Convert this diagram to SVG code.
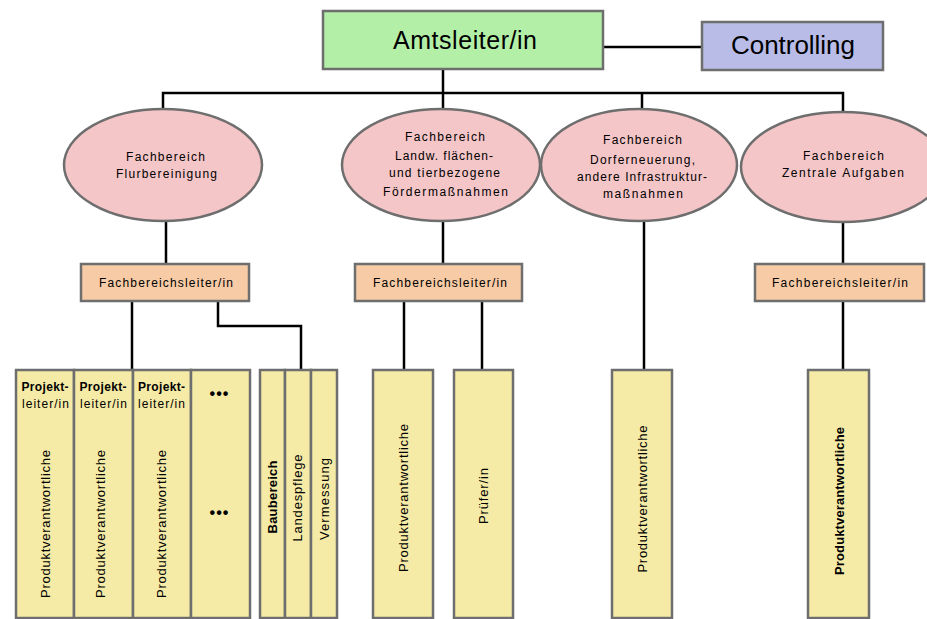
<svg xmlns="http://www.w3.org/2000/svg" width="927" height="619" viewBox="0 0 927 619">
<style>
text{font-family:"Liberation Sans",Arial,sans-serif;fill:#000}
.box{stroke:#6e6e6e;stroke-width:2.5}
.green{fill:#b3efa7}
.blue{fill:#b8bce6}
.pink{fill:#f5c6c8}
.peach{fill:#f7cba6}
.yel{fill:#f5eba6}
.conn{stroke:#000;stroke-width:2.5;fill:none}
.t{font-size:12px;text-anchor:middle}
.v{font-size:13px;text-anchor:middle}
</style>
<g id="connectors">
<line class="conn" x1="603" y1="47" x2="701" y2="47"/>
<line class="conn" x1="443" y1="69" x2="443" y2="109"/>
<polyline class="conn" points="163,109 163,93 843,93 843,111"/>
<line class="conn" x1="642" y1="93" x2="642" y2="109"/>
<line class="conn" x1="166" y1="221" x2="166" y2="263"/>
<line class="conn" x1="443" y1="221" x2="443" y2="263"/>
<line class="conn" x1="644" y1="221" x2="644" y2="369"/>
<line class="conn" x1="843" y1="222" x2="843" y2="263"/>
<line class="conn" x1="843" y1="301" x2="843" y2="369"/>
<line class="conn" x1="132" y1="301" x2="132" y2="369"/>
<polyline class="conn" points="218,301 218,326 301,326 301,369"/>
<line class="conn" x1="404" y1="301" x2="404" y2="369"/>
<line class="conn" x1="482" y1="301" x2="482" y2="369"/>
</g>
<g id="amtsleiter">
<rect class="box green" x="323" y="11" width="280" height="58"/>
<text x="465" y="49" font-size="25" text-anchor="middle" textLength="144" lengthAdjust="spacing">Amtsleiter/in</text>
</g>
<g id="controlling">
<rect class="box blue" x="702" y="22" width="181" height="48"/>
<text x="793" y="54" font-size="26" text-anchor="middle" textLength="124" lengthAdjust="spacing">Controlling</text>
</g>
<g id="fb1">
<ellipse class="box pink" cx="163" cy="165" rx="99" ry="56"/>
<text class="t" x="165.5" y="161" textLength="79" lengthAdjust="spacing">Fachbereich</text>
<text class="t" x="166.5" y="178" textLength="101" lengthAdjust="spacing">Flurbereinigung</text>
</g>
<g id="fb2">
<ellipse class="box pink" cx="441" cy="165" rx="99" ry="56"/>
<text class="t" x="445" y="141" textLength="80" lengthAdjust="spacing">Fachbereich</text>
<text class="t" x="444" y="160" textLength="98" lengthAdjust="spacing">Landw. flächen-</text>
<text class="t" x="444.5" y="177" textLength="111" lengthAdjust="spacing">und tierbezogene</text>
<text class="t" x="445.5" y="196" textLength="125" lengthAdjust="spacing">Fördermaßnahmen</text>
</g>
<g id="fb3">
<ellipse class="box pink" cx="639" cy="165" rx="98" ry="56"/>
<text class="t" x="642.5" y="144" textLength="79" lengthAdjust="spacing">Fachbereich</text>
<text class="t" x="642.5" y="164" textLength="105" lengthAdjust="spacing">Dorferneuerung,</text>
<text class="t" x="642" y="181" textLength="130" lengthAdjust="spacing">andere Infrastruktur-</text>
<text class="t" x="643" y="198" textLength="80" lengthAdjust="spacing">maßnahmen</text>
</g>
<g id="fb4">
<ellipse class="box pink" cx="843" cy="167" rx="102" ry="55"/>
<text class="t" x="843.5" y="160" textLength="81" lengthAdjust="spacing">Fachbereich</text>
<text class="t" x="843" y="177" textLength="122" lengthAdjust="spacing">Zentrale Aufgaben</text>
</g>
<g id="fbl1">
<rect class="box peach" x="81" y="264" width="168" height="37"/>
<text class="t" x="166" y="287" textLength="134" lengthAdjust="spacing">Fachbereichsleiter/in</text>
</g>
<g id="fbl2">
<rect class="box peach" x="355" y="264" width="167" height="37"/>
<text class="t" x="440" y="287" textLength="134" lengthAdjust="spacing">Fachbereichsleiter/in</text>
</g>
<g id="fbl4">
<rect class="box peach" x="755" y="264" width="169" height="37"/>
<text class="t" x="840" y="287" textLength="136" lengthAdjust="spacing">Fachbereichsleiter/in</text>
</g>
<g id="col1">
<rect class="box yel" x="16" y="370" width="58" height="248"/>
<text class="t" x="45" y="391" font-weight="bold" textLength="47" lengthAdjust="spacing">Projekt-</text>
<text class="t" x="45.5" y="408" textLength="47" lengthAdjust="spacing">leiter/in</text>
<text class="v" transform="translate(49.5,524) rotate(-90)" textLength="148" lengthAdjust="spacing">Produktverantwortliche</text>
</g>
<g id="col2">
<rect class="box yel" x="74" y="370" width="59" height="248"/>
<text class="t" x="103" y="391" font-weight="bold" textLength="47" lengthAdjust="spacing">Projekt-</text>
<text class="t" x="103.5" y="408" textLength="47" lengthAdjust="spacing">leiter/in</text>
<text class="v" transform="translate(105,524) rotate(-90)" textLength="148" lengthAdjust="spacing">Produktverantwortliche</text>
</g>
<g id="col3">
<rect class="box yel" x="133" y="370" width="58" height="248"/>
<text class="t" x="161.5" y="391" font-weight="bold" textLength="47" lengthAdjust="spacing">Projekt-</text>
<text class="t" x="161.5" y="408" textLength="47" lengthAdjust="spacing">leiter/in</text>
<text class="v" transform="translate(166,524) rotate(-90)" textLength="148" lengthAdjust="spacing">Produktverantwortliche</text>
</g>
<g id="col4">
<rect class="box yel" x="191" y="370" width="59" height="248"/>
<text x="219.5" y="399" font-size="16" font-weight="bold" text-anchor="middle" letter-spacing="1">•••</text>
<text x="219.5" y="518" font-size="16" font-weight="bold" text-anchor="middle" letter-spacing="1">•••</text>
</g>
<g id="baubereich">
<rect class="box yel" x="260" y="370" width="25" height="248"/>
<text class="v" font-weight="bold" transform="translate(276.5,497) rotate(-90)" textLength="73" lengthAdjust="spacing">Baubereich</text>
</g>
<g id="landespflege">
<rect class="box yel" x="285" y="370" width="26" height="248"/>
<text class="v" transform="translate(302,498) rotate(-90)" textLength="87" lengthAdjust="spacing">Landespflege</text>
</g>
<g id="vermessung">
<rect class="box yel" x="311" y="370" width="26" height="248"/>
<text class="v" transform="translate(328.5,499) rotate(-90)" textLength="82" lengthAdjust="spacing">Vermessung</text>
</g>
<g id="col5">
<rect class="box yel" x="373" y="370" width="60" height="248"/>
<text class="v" transform="translate(408,498) rotate(-90)" textLength="148" lengthAdjust="spacing">Produktverantwortliche</text>
</g>
<g id="col6">
<rect class="box yel" x="454" y="370" width="59" height="248"/>
<text class="v" transform="translate(488,496) rotate(-90)" textLength="56" lengthAdjust="spacing">Prüfer/in</text>
</g>
<g id="col7">
<rect class="box yel" x="612" y="370" width="60" height="248"/>
<text class="v" transform="translate(647,499) rotate(-90)" textLength="147" lengthAdjust="spacing">Produktverantwortliche</text>
</g>
<g id="col8">
<rect class="box yel" x="808" y="370" width="61" height="248"/>
<text class="v" font-weight="bold" transform="translate(843.5,501) rotate(-90)" textLength="148" lengthAdjust="spacing">Produktverantwortliche</text>
</g>
</svg>
